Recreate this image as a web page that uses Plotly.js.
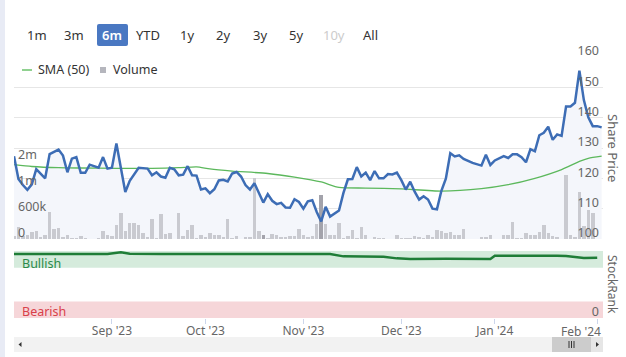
<!DOCTYPE html>
<html><head><meta charset="utf-8">
<script src="https://cdn.plot.ly/plotly-3.0.1.min.js"></script>
<style>html,body{margin:0;padding:0;background:#fff;}#chart{width:626px;height:357px;}</style>
</head><body><div id="chart"></div>
<script>
// ---- categories: trading days (weekdays) Aug 2 2023 - Feb 2 2024 ----
const tradingDays = [
'2023-08-02','2023-08-03','2023-08-04','2023-08-07','2023-08-08','2023-08-09','2023-08-10','2023-08-11','2023-08-14','2023-08-15','2023-08-16','2023-08-17','2023-08-18','2023-08-21','2023-08-22','2023-08-23','2023-08-24','2023-08-25','2023-08-28','2023-08-29','2023-08-30','2023-08-31',
'2023-09-01','2023-09-04','2023-09-05','2023-09-06','2023-09-07','2023-09-08','2023-09-11','2023-09-12','2023-09-13','2023-09-14','2023-09-15','2023-09-18','2023-09-19','2023-09-20','2023-09-21','2023-09-22','2023-09-25','2023-09-26','2023-09-27','2023-09-28','2023-09-29',
'2023-10-02','2023-10-03','2023-10-04','2023-10-05','2023-10-06','2023-10-09','2023-10-10','2023-10-11','2023-10-12','2023-10-13','2023-10-16','2023-10-17','2023-10-18','2023-10-19','2023-10-20','2023-10-23','2023-10-24','2023-10-25','2023-10-26','2023-10-27','2023-10-30','2023-10-31',
'2023-11-01','2023-11-02','2023-11-03','2023-11-06','2023-11-07','2023-11-08','2023-11-09','2023-11-10','2023-11-13','2023-11-14','2023-11-15','2023-11-16','2023-11-17','2023-11-20','2023-11-21','2023-11-22','2023-11-23','2023-11-24','2023-11-27','2023-11-28','2023-11-29','2023-11-30',
'2023-12-01','2023-12-04','2023-12-05','2023-12-06','2023-12-07','2023-12-08','2023-12-11','2023-12-12','2023-12-13','2023-12-14','2023-12-15','2023-12-18','2023-12-19','2023-12-20','2023-12-21','2023-12-22','2023-12-25','2023-12-26','2023-12-27','2023-12-28','2023-12-29',
'2024-01-01','2024-01-02','2024-01-03','2024-01-04','2024-01-05','2024-01-08','2024-01-09','2024-01-10','2024-01-11','2024-01-12','2024-01-15','2024-01-16','2024-01-17','2024-01-18','2024-01-19','2024-01-22','2024-01-23','2024-01-24','2024-01-25','2024-01-26','2024-01-29','2024-01-30','2024-01-31',
'2024-02-01','2024-02-02'];

// ---- volume (one per trading day) ----
const volume = [
62,272,62,85,163,195,39,101,630,242,257,47,101,23,15,62,15,0,0,15,179,85,
62,319,599,179,365,365,319,140,47,459,23,568,117,140,0,599,62,218,319,23,101,
55,140,101,85,47,467,23,70,0,39,39,1400,179,85,23,117,101,39,55,62,62,228,
101,55,70,338,1015,350,85,85,365,23,70,210,23,280,85,0,39,23,15,0,0,93,
23,23,23,70,39,23,85,39,210,179,148,163,101,101,225,0,0,0,39,47,101,
0,0,85,85,382,23,23,148,101,101,163,319,148,70,39,0,1482,85,39,1085,292,677,607,
0,0].map(v => v * 1000);
const darkBarDays = ['2023-10-19','2023-11-07'];

// ---- share price ----
const priceDates = ['2023-08-02','2023-08-03','2023-08-04','2023-08-07','2023-08-08','2023-08-09','2023-08-11','2023-08-14','2023-08-16','2023-08-17','2023-08-18','2023-08-21','2023-08-22','2023-08-23','2023-08-24','2023-08-25','2023-08-29','2023-08-30','2023-08-31','2023-09-01','2023-09-04','2023-09-06','2023-09-07','2023-09-08','2023-09-11','2023-09-13','2023-09-14','2023-09-15','2023-09-18','2023-09-19','2023-09-20','2023-09-21','2023-09-22','2023-09-25','2023-09-26','2023-09-27','2023-09-28','2023-09-29','2023-10-02','2023-10-03','2023-10-04','2023-10-05','2023-10-06','2023-10-09','2023-10-10','2023-10-11','2023-10-12','2023-10-13','2023-10-16','2023-10-17','2023-10-18','2023-10-19','2023-10-20','2023-10-23','2023-10-24','2023-10-25','2023-10-26','2023-10-27','2023-10-30','2023-10-31','2023-11-01','2023-11-02','2023-11-03','2023-11-06','2023-11-07','2023-11-08','2023-11-09','2023-11-10','2023-11-13','2023-11-14','2023-11-15','2023-11-16','2023-11-17','2023-11-20','2023-11-21','2023-11-22','2023-11-23','2023-11-24','2023-11-27','2023-11-28','2023-11-29','2023-11-30','2023-12-01','2023-12-04','2023-12-05','2023-12-06','2023-12-07','2023-12-08','2023-12-11','2023-12-12','2023-12-13','2023-12-14','2023-12-15','2023-12-18','2023-12-19','2023-12-20','2023-12-21','2023-12-25','2023-12-27','2023-12-28','2023-12-29','2024-01-01','2024-01-03','2024-01-04','2024-01-05','2024-01-08','2024-01-09','2024-01-10','2024-01-11','2024-01-12','2024-01-15','2024-01-16','2024-01-17','2024-01-18','2024-01-19','2024-01-22','2024-01-23','2024-01-24','2024-01-25','2024-01-26','2024-01-29','2024-01-30','2024-01-31','2024-02-01','2024-02-02'];
const price = [127.3,119.8,117.8,116.2,118.0,123.0,120.0,128.0,129.5,127.5,122.0,126.5,127.0,121.8,121.8,124.5,123.5,127.0,123.2,123.5,131.5,115.5,119.2,121.2,123.5,123.2,121.0,122.0,120.6,120.2,123.5,123.0,121.0,121.2,124.0,121.0,120.9,116.3,116.7,115.1,116.4,119.3,119.5,119.0,121.6,122.1,120.6,117.8,116.3,118.4,115.0,112.0,114.8,112.6,111.5,111.9,110.4,110.3,113.1,112.2,110.0,112.4,112.8,108.9,105.8,110.6,107.4,108.3,109.4,115.2,119.7,119.8,123.7,120.6,121.9,119.4,122.4,120.0,120.0,121.4,121.3,121.9,119.4,116.3,118.9,115.6,113.0,114.1,113.0,110.0,109.8,115.9,119.9,128.3,127.2,127.6,126.4,125.1,124.2,127.8,124.4,125.9,127.3,126.7,127.9,127.9,127.0,125.3,129.6,128.9,134.2,135.0,137.0,132.7,134.5,134.0,143.7,143.7,144.9,155.5,145.8,140.1,137.2,137.2,136.8];

// ---- SMA (50) ----
const smaDates = ['2023-08-02','2023-08-08','2023-08-16','2023-08-23','2023-09-04','2023-09-14','2023-09-22','2023-09-28','2023-10-03','2023-10-10','2023-10-20','2023-10-30','2023-11-07','2023-11-13','2023-11-21','2023-12-01','2023-12-14','2023-12-27','2024-01-04','2024-01-12','2024-01-22','2024-01-26','2024-01-30','2024-02-02'];
const sma = [124.5,123.9,123.5,123.4,123.3,123.3,123.5,123.8,123.1,122.4,121.6,120.4,118.8,117.0,116.8,116.5,115.8,116.6,117.9,120.0,122.9,125.6,126.6,127.3];

// ---- StockRank ----
const rankDates = ['2023-08-02','2023-08-31','2023-09-05','2023-09-07','2023-09-18','2023-10-16','2023-11-09','2023-11-14','2023-11-27','2023-11-30','2023-12-05','2023-12-15','2023-12-27','2023-12-29','2024-01-01','2024-01-15','2024-01-19','2024-01-23','2024-01-29','2024-02-01'];
const rank = [95.5,95.5,98,96,95.5,95.5,95.5,92,91.5,89,88,88.5,87.8,88,93,93.5,93,92.5,89.5,90];

// ---- labels ----
const tickDates = ['2023-09-01','2023-10-02','2023-11-01','2023-12-01','2024-01-01','2024-02-01'];
const tickLabels = ["Sep '23","Oct '23","Nov '23","Dec '23","Jan '24","Feb '24"];
const priceTicks = [100,110,120,130,140,150,160];
const volumeTicks = [0,600000,1200000,1800000];
const volumeTickLabels = ['0','600k','1m','2m'];
const rangeButtons = ['1m','3m','6m','YTD','1y','2y','3y','5y','10y','All'];
const selectedButton = '6m';
const disabledButton = '10y';

// ---------------- drawing ----------------
const W = 626, H = 357;
const F = 'Noto Sans, Open Sans, sans-serif';
const px = x => x / W;
const py = y => 1 - y / H;

const barColors = tradingDays.map(d => darkBarDays.includes(d) ? '#a3a3ab' : '#c9cad0');

const traces = [
  {type:'scatter', mode:'lines', x:priceDates, y:price, xaxis:'x', yaxis:'y',
   line:{width:0, color:'rgba(0,0,0,0)'}, fill:'tozeroy', fillcolor:'#f4f6fb', hoverinfo:'skip'},
  {type:'bar', x:tradingDays, y:volume, xaxis:'x', yaxis:'y2', width:0.78,
   marker:{color:barColors, line:{width:0}}},
  {type:'scatter', mode:'lines', x:smaDates, y:sma, xaxis:'x', yaxis:'y3',
   line:{color:'#5cb85c', width:1.3, shape:'spline', smoothing:0.6}},
  {type:'scatter', mode:'lines', x:priceDates, y:price, xaxis:'x', yaxis:'y3',
   line:{color:'#3d6db5', width:2.5}},
  {type:'scatter', mode:'lines', x:rankDates, y:rank, xaxis:'x', yaxis:'y4',
   line:{color:'#1f7d37', width:2.5}}
];

const annotations = [];
const shapes = [];

// left border strip
shapes.push({type:'rect', xref:'paper', yref:'paper', x0:0, x1:px(5), y0:0, y1:1, fillcolor:'#e8ebf5', line:{width:0}, layer:'below'});

// range buttons
const btnX = [37,74,112,148,187,223,260,296,334,370];
shapes.push({type:'path', xref:'paper', yref:'paper',
  path:`M ${px(99)} ${py(24)} L ${px(126)} ${py(24)} Q ${px(128)} ${py(24)} ${px(128)} ${py(26)} L ${px(128)} ${py(44)} Q ${px(128)} ${py(46)} ${px(126)} ${py(46)} L ${px(99)} ${py(46)} Q ${px(97)} ${py(46)} ${px(97)} ${py(44)} L ${px(97)} ${py(26)} Q ${px(97)} ${py(24)} ${px(99)} ${py(24)} Z`,
  fillcolor:'#4a78c2', line:{width:0}});
rangeButtons.forEach((b,i) => {
  annotations.push({text:b, x:px(btnX[i]), y:py(35), xref:'paper', yref:'paper', showarrow:false,
    xanchor:'center', yanchor:'middle',
    font:{family:F, size:13, color: b===selectedButton ? '#ffffff' : (b===disabledButton ? '#cccccc' : '#333333'), weight: b===selectedButton ? 600 : 400}});
});

// legend
shapes.push({type:'line', xref:'paper', yref:'paper', x0:px(22), x1:px(32), y0:py(70), y1:py(70), line:{color:'#90d190', width:2}});
annotations.push({text:'SMA (50)', x:px(36), y:py(70), xref:'paper', yref:'paper', showarrow:false, xanchor:'left', yanchor:'middle', font:{family:F, size:12.5, color:'#333'}});
shapes.push({type:'rect', xref:'paper', yref:'paper', x0:px(100), x1:px(106), y0:py(73), y1:py(67), fillcolor:'#b5b6bd', line:{width:0}});
annotations.push({text:'Volume', x:px(111), y:py(70), xref:'paper', yref:'paper', showarrow:false, xanchor:'left', yanchor:'middle', font:{family:F, size:12.5, color:'#333'}});

// StockRank bands
shapes.push({type:'rect', xref:'x domain', yref:'y4', x0:0, x1:1, y0:75, y1:100, fillcolor:'#d5ebdc', line:{width:0}, layer:'below'});
shapes.push({type:'rect', xref:'x domain', yref:'y4', x0:0, x1:1, y0:0, y1:24.5, fillcolor:'#f6d6d9', line:{width:0}, layer:'below'});
annotations.push({text:'Bullish', x:px(20), y:py(263), xref:'paper', yref:'paper', showarrow:false, xanchor:'left', yanchor:'middle', font:{family:F, size:12.5, color:'#2b8a4a'}});
annotations.push({text:'Bearish', x:px(20), y:py(311), xref:'paper', yref:'paper', showarrow:false, xanchor:'left', yanchor:'middle', font:{family:F, size:12.5, color:'#d9404a'}});

// vertical titles
annotations.push({text:'Share Price', x:px(613), y:py(148), xref:'paper', yref:'paper', showarrow:false, textangle:90, xanchor:'center', yanchor:'middle', font:{family:F, size:13, color:'#666'}});
annotations.push({text:'StockRank', x:px(613), y:py(284), xref:'paper', yref:'paper', showarrow:false, textangle:90, xanchor:'center', yanchor:'middle', font:{family:F, size:12, color:'#666'}});

// last x tick label is pushed inside the chart edge (as in the original)
const lastIdx = tickLabels.length - 1;
const axisTickText = tickLabels.map((t,i) => i === lastIdx ? '' : t);
annotations.push({text:tickLabels[lastIdx], x:px(603), y:py(331), xref:'paper', yref:'paper', showarrow:false, xanchor:'right', yanchor:'middle', font:{family:F, size:12, color:'#666'}});

// scrollbar
shapes.push({type:'rect', xref:'paper', yref:'paper', x0:px(14), x1:px(603), y0:py(352), y1:py(337), fillcolor:'#f2f2f2', line:{width:0}});
shapes.push({type:'rect', xref:'paper', yref:'paper', x0:px(552), x1:px(591), y0:py(352), y1:py(337), fillcolor:'#cccccc', line:{width:0}});
shapes.push({type:'rect', xref:'paper', yref:'paper', x0:px(591), x1:px(603), y0:py(352), y1:py(337), fillcolor:'#e6e6e6', line:{width:0}});
shapes.push({type:'path', xref:'paper', yref:'paper', path:`M ${px(21.5)} ${py(342)} L ${px(18.5)} ${py(344.5)} L ${px(21.5)} ${py(347)} Z`, fillcolor:'#333', line:{width:0}});
shapes.push({type:'path', xref:'paper', yref:'paper', path:`M ${px(596)} ${py(342)} L ${px(599)} ${py(344.5)} L ${px(596)} ${py(347)} Z`, fillcolor:'#333', line:{width:0}});
[569,571.5,574].forEach(gx => shapes.push({type:'line', xref:'paper', yref:'paper', x0:px(gx), x1:px(gx), y0:py(341), y1:py(348), line:{color:'#333', width:1}}));

const yLabelCommon = {ticklabelposition:'inside', ticklabelshift:-6, ticklabelstandoff:1, ticklabeloverflow:'allow',
  zeroline:false, showline:false, tickfont:{family:F, size:12.5, color:'#666'}};

const layout = {
  width:W, height:H, margin:{l:0, r:0, t:0, b:0},
  paper_bgcolor:'#ffffff', plot_bgcolor:'rgba(0,0,0,0)',
  showlegend:false, bargap:0, hovermode:false,
  font:{family:F, size:12, color:'#666'},
  xaxis:{type:'category', categoryorder:'array', categoryarray:tradingDays,
    domain:[px(14), px(603)], range:[0, 132.3], anchor:'y4',
    tickmode:'array', tickvals:tickDates, ticktext:axisTickText, ticklabeloverflow:'allow',
    ticks:'outside', ticklen:5, tickcolor:'#ccd6eb', tickwidth:1, ticklabelstandoff:-3,
    showgrid:false, showline:false, zeroline:false,
    tickfont:{family:F, size:12, color:'#666'}},
  yaxis:Object.assign({domain:[py(239), py(57)], range:[100,160], side:'right', anchor:'x',
    tickmode:'array', tickvals:priceTicks, gridcolor:'#e6e6e6', gridwidth:1}, yLabelCommon),
  yaxis2:Object.assign({overlaying:'y', side:'left', anchor:'x', range:[0, 4200000],
    tickmode:'array', tickvals:volumeTicks, ticktext:volumeTickLabels, showgrid:false}, yLabelCommon),
  yaxis3:{overlaying:'y', range:[100,160], anchor:'x', visible:false, showgrid:false},
  yaxis4:Object.assign({domain:[py(318), py(251)], range:[0,100], anchor:'x', side:'right',
    tickmode:'array', tickvals:[0], showgrid:false}, yLabelCommon),
  shapes:shapes, annotations:annotations
};

Plotly.newPlot('chart', traces, layout, {staticPlot:true, displayModeBar:false});
</script>
</body></html>
